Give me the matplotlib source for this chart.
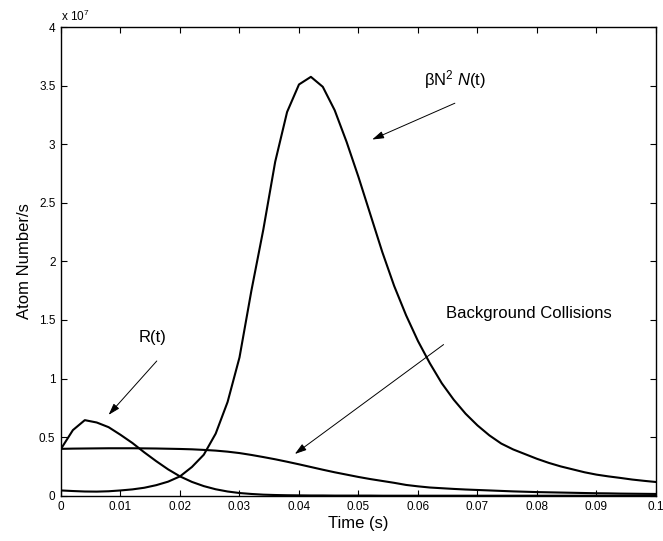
import numpy as np
import matplotlib
matplotlib.use('Agg')
import matplotlib.pyplot as plt
from matplotlib.ticker import FormatStrFormatter, MultipleLocator

plt.rcParams['font.family'] = ['Liberation Sans', 'DejaVu Sans']
plt.rcParams['mathtext.fontset'] = 'custom'
plt.rcParams['mathtext.rm'] = 'Liberation Sans'
plt.rcParams['mathtext.it'] = 'Liberation Sans:italic'

# Sampling: 0 to 0.1 s in steps of 0.002 s
t = np.linspace(0, 0.1, 51)

# Values in units of 1e7 atoms/s
beta_n2 = [0.045, 0.040, 0.036, 0.035, 0.038, 0.045, 0.054, 0.068, 0.090, 0.120,
           0.165, 0.245, 0.350, 0.530, 0.800, 1.180, 1.750, 2.270, 2.850, 3.275,
           3.510, 3.575, 3.490, 3.290, 3.020, 2.720, 2.400, 2.080, 1.790, 1.540,
           1.320, 1.130, 0.960, 0.820, 0.700, 0.600, 0.515, 0.445, 0.395, 0.355,
           0.315, 0.280, 0.250, 0.225, 0.200, 0.180, 0.165, 0.152, 0.138, 0.127,
           0.117]

r_t = [0.400, 0.560, 0.645, 0.625, 0.585, 0.520, 0.450, 0.370, 0.295, 0.225,
       0.165, 0.118, 0.082, 0.055, 0.036, 0.023, 0.015, 0.009, 0.006, 0.004,
       0.003, 0.002, 0.002, 0.001, 0.001, 0.001, 0.001, 0.000, 0.000, 0.000,
       0.000, 0.000, 0.000, 0.000, 0.000, 0.000, 0.000, 0.000, 0.000, 0.000,
       0.000, 0.000, 0.000, 0.000, 0.000, 0.000, 0.000, 0.000, 0.000, 0.000,
       0.000]

background = [0.400, 0.402, 0.403, 0.404, 0.405, 0.405, 0.405, 0.404, 0.403, 0.401,
              0.399, 0.396, 0.391, 0.385, 0.376, 0.364, 0.348, 0.330, 0.311, 0.290,
              0.268, 0.245, 0.222, 0.200, 0.180, 0.160, 0.142, 0.126, 0.110, 0.092,
              0.080, 0.070, 0.064, 0.058, 0.053, 0.049, 0.045, 0.041, 0.037, 0.034,
              0.031, 0.029, 0.027, 0.025, 0.023, 0.021, 0.020, 0.018, 0.017, 0.016,
              0.015]

fig = plt.figure(figsize=(6.63, 5.41), dpi=100)
ax = fig.add_axes([0.092, 0.0837, 0.8974, 0.8663])

for y in (beta_n2, r_t, background):
    ax.plot(t, y, color='black', lw=1.5)

ax.set_xlim(0, 0.1)
ax.set_ylim(0, 4)
ax.xaxis.set_major_locator(MultipleLocator(0.01))
ax.yaxis.set_major_locator(MultipleLocator(0.5))
ax.xaxis.set_major_formatter(FormatStrFormatter('%g'))
ax.yaxis.set_major_formatter(FormatStrFormatter('%g'))
ax.tick_params(direction='in', length=4, width=0.8, top=True, right=True,
               labelsize=8.5, pad=4)
for spine in ax.spines.values():
    spine.set_linewidth(1.0)

ax.set_xlabel('Time (s)', fontsize=12, labelpad=2)
ax.set_ylabel('Atom Number/s', fontsize=12, labelpad=5)

ax.text(0.0, 1.006, r'x 10$^{7}$', transform=ax.transAxes, fontsize=8.5,
        ha='left', va='bottom')

# Annotations
arrow = dict(arrowstyle='-|>,head_length=0.7,head_width=0.22', lw=0.7,
             color='black', shrinkA=0, shrinkB=0)
ax.annotate('', xy=(0.0523, 3.04), xytext=(0.0662, 3.35), arrowprops=arrow)
ax.annotate('', xy=(0.0080, 0.69), xytext=(0.0161, 1.15), arrowprops=arrow)
ax.annotate('', xy=(0.0393, 0.356), xytext=(0.0643, 1.29), arrowprops=arrow)

ax.text(0.0662, 3.55, r'βN$^{2}$ $\mathit{N}$(t)', fontsize=12, ha='center', va='center')
ax.text(0.01546, 1.354, 'R(t)', fontsize=12, ha='center', va='center')
ax.text(0.0787, 1.558, 'Background Collisions', fontsize=12, ha='center', va='center')

fig.savefig('out.png', dpi=100)
